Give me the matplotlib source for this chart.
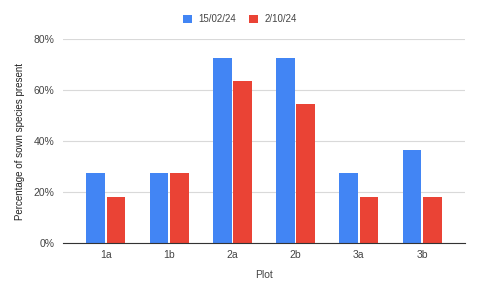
import matplotlib
matplotlib.use("Agg")
import matplotlib.pyplot as plt
import numpy as np
from matplotlib.ticker import PercentFormatter

plt.rcParams['font.family'] = ['Liberation Sans', 'DejaVu Sans']

plots = ["1a", "1b", "2a", "2b", "3a", "3b"]
series_names = ["15/02/24", "2/10/24"]
feb = [27.3, 27.3, 72.7, 72.7, 27.3, 36.4]
octo = [18.2, 27.3, 63.6, 54.5, 18.2, 18.2]
colors = ["#4285F4", "#EA4335"]

fig = plt.figure(figsize=(4.8, 2.96), dpi=100)
ax = fig.add_axes([0.131, 0.179, 0.838, 0.689])

x = np.arange(len(plots))
w = 0.30
ax.bar(x - 0.16, feb, w, color=colors[0], label=series_names[0], zorder=3)
ax.bar(x + 0.16, octo, w, color=colors[1], label=series_names[1], zorder=3)

ax.set_xlim(-0.68, len(plots) - 1 + 0.68)
ax.set_ylim(0, 80)
ax.set_yticks([0, 20, 40, 60, 80])
ax.yaxis.set_major_formatter(PercentFormatter(decimals=0))
ax.set_xticks(x)
ax.set_xticklabels(plots)
ax.grid(axis='y', color='#d9d9d9', linewidth=0.8, zorder=0)
for s in ['top', 'right', 'left']:
    ax.spines[s].set_visible(False)
ax.spines['bottom'].set_color('#333333')
ax.spines['bottom'].set_linewidth(0.8)
ax.spines['bottom'].set_zorder(4)
ax.tick_params(axis='both', length=0, labelsize=7.5, colors='#444444', pad=6)
ax.tick_params(axis='x', pad=5)
ax.set_xlabel("Plot", fontsize=7.5, color='#444444', labelpad=7)
ax.set_ylabel("Percentage of sown species present", fontsize=7, color='#222222', labelpad=6)

fig.legend(loc='center', bbox_to_anchor=(0.5, 0.936), ncol=2, frameon=False,
           fontsize=7, handlelength=0.9, handleheight=0.9, columnspacing=1.35,
           handletextpad=0.7, labelcolor='#444444')

fig.savefig("out.png", dpi=100)
